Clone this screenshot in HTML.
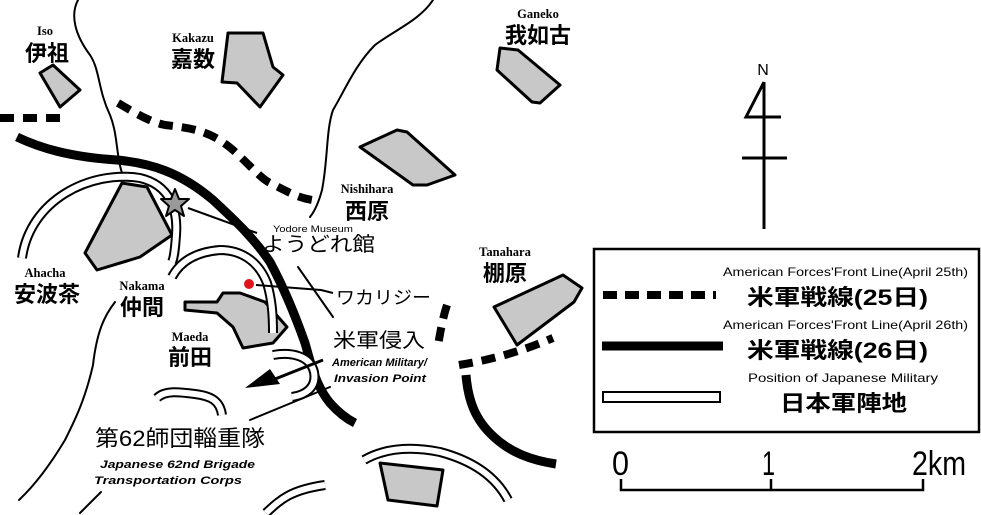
<!DOCTYPE html>
<html><head><meta charset="utf-8"><style>
html,body{margin:0;padding:0;background:#fff;}
svg{display:block;}
.s{font-family:"Liberation Serif",serif;font-weight:bold;font-size:12.5px;}
.j{font-family:"Liberation Sans","Noto Sans CJK JP",sans-serif;font-weight:bold;font-size:22px;}
.n{font-family:"Liberation Sans","Noto Sans CJK JP",sans-serif;}
.m{font-family:"Liberation Sans",sans-serif;}
.i{font-family:"Liberation Sans",sans-serif;font-style:italic;font-weight:bold;font-size:11px;}
</style></head><body>
<svg width="981" height="515" viewBox="0 0 981 515" xmlns="http://www.w3.org/2000/svg">
<g fill="none" stroke="#000" stroke-width="2" stroke-linejoin="round" stroke-linecap="round">
<path d="M78,0 C70,15 75,35 90,55 C100,70 98,90 110,115 C118,135 116,155 122,173"/>
<path d="M433,0 C420,20 395,30 375,45 C355,65 345,90 333,110 C326,130 328,160 322,190 C318,205 314,212 310,217"/>
<path d="M115,302 C105,315 97,330 93,365 C85,400 75,420 65,440 C50,465 35,485 19,500"/>
<path d="M101,492 L80,513"/>
<path d="M298,267 L333,317"/>
<path d="M330,387 L250,420"/>
</g>
<g fill="none" stroke="#000" stroke-width="8" stroke-dasharray="14,9">
<path d="M0,118 L63,118"/>
<path d="M118,103 C135,113 150,122 165,125 C190,128 210,130 233,150 C250,165 260,178 270,183 C285,190 295,197 312,200"/>
<path d="M447,305 C442,320 440,335 438,345"/>
<path d="M459,365 C490,360 520,352 553,338"/>
</g>
<g fill="none" stroke="#000" stroke-width="9">
<path d="M17,137 C40,148 70,157 117,160 C150,163 180,172 213,200 C240,225 255,240 270,262 C285,290 295,315 305,343 C310,360 315,385 330,403 C338,412 345,418 355,423"/>
<path d="M466,375 C468,400 475,420 494,437 C510,452 530,460 556,464"/>
</g>
<g fill="#c8c8c8" stroke="#000" stroke-width="3" stroke-linejoin="round">
<polygon points="40,73 53,65 80,90 60,107"/>
<polygon points="228,33 263,33 273,67 283,75 260,107 237,83 222,82"/>
<polygon points="360,147 397,130 407,132 455,175 427,185 413,185"/>
<polygon points="500,48 518,50 560,85 540,103 532,102 497,70"/>
<polygon points="122,183 147,187 172,235 140,257 97,270 85,253"/>
<polygon points="185,302 185,310 217,313 233,327 243,348 273,343 287,327 265,302 240,293 223,293 217,302"/>
<polygon points="494,307 563,275 582,288 574,302 517,345"/>
<polygon points="380,463 443,470 437,506 388,500"/>
</g>
<g fill="none" stroke-linecap="butt">
<g stroke="#000" stroke-width="10">
<path d="M22,258 C30,200 90,170 140,178 C170,185 178,210 176,235 C175,250 174,258 172,262"/>
<path d="M172,277 C180,262 195,252 220,250 C240,250 258,260 267,283 C272,300 273,315 273,333"/>
<path d="M273,355 C290,352 310,355 314,372 C317,388 305,395 292,397"/>
<path d="M157,398 C165,390 180,392 195,394 C210,396 220,400 222,415"/>
<path d="M364,460 C385,448 410,446 440,452 C470,460 495,475 508,500"/>
<path d="M266,513 C280,500 290,490 325,485"/>
</g>
<g stroke="#fff" stroke-width="6">
<path d="M22,258 C30,200 90,170 140,178 C170,185 178,210 176,235 C175,250 174,258 172,262"/>
<path d="M172,277 C180,262 195,252 220,250 C240,250 258,260 267,283 C272,300 273,315 273,333"/>
<path d="M273,355 C290,352 310,355 314,372 C317,388 305,395 292,397"/>
<path d="M157,398 C165,390 180,392 195,394 C210,396 220,400 222,415"/>
<path d="M364,460 C385,448 410,446 440,452 C470,460 495,475 508,500"/>
<path d="M266,513 C280,500 290,490 325,485"/>
</g>
</g>
<line x1="323" y1="360" x2="270" y2="381" stroke="#000" stroke-width="3"/>
<polygon points="245,388 270,369 280,384" fill="#000"/>
<polygon points="175,189 179,199 189,199 181,206 184,216 175,210 166,216 169,206 161,199 171,199" fill="#999" stroke="#000" stroke-width="2" stroke-linejoin="round"/>
<line x1="188" y1="208" x2="257" y2="233" stroke="#000" stroke-width="2"/>
<circle cx="249" cy="284" r="5" fill="#e0161c"/>
<polyline points="256,285 321,290 333,293" fill="none" stroke="#000" stroke-width="2"/>
<g text-anchor="middle">
<text class="s" x="45" y="35">Iso</text><text class="j" x="47" y="61">伊祖</text>
<text class="s" x="193" y="42">Kakazu</text><text class="j" x="193" y="67">嘉数</text>
<text class="s" x="538" y="18">Ganeko</text><text class="j" x="538" y="43">我如古</text>
<text class="s" x="367" y="193">Nishihara</text><text class="j" x="367" y="219">西原</text>
<text class="s" x="505" y="256">Tanahara</text><text class="j" x="505" y="281">棚原</text>
<text class="s" x="45" y="277">Ahacha</text><text class="j" x="47" y="302">安波茶</text>
<text class="s" x="142" y="290">Nakama</text><text class="j" x="142" y="315">仲間</text>
<text class="s" x="190" y="341">Maeda</text><text class="j" x="190" y="365">前田</text>
</g>
<text class="m" x="273" y="232" font-size="9.5" textLength="80" lengthAdjust="spacingAndGlyphs">Yodore Museum</text>
<text class="n" x="262" y="251" font-size="20" textLength="113" lengthAdjust="spacingAndGlyphs">ようどれ館</text>
<text class="n" x="336" y="304" font-size="18" textLength="95" lengthAdjust="spacingAndGlyphs">ワカリジー</text>
<text class="n" x="333" y="347" font-size="20" textLength="92" lengthAdjust="spacingAndGlyphs">米軍侵入</text>
<text class="i" x="332" y="366" textLength="95" lengthAdjust="spacingAndGlyphs">American Military/</text>
<text class="i" x="334" y="382" textLength="92" lengthAdjust="spacingAndGlyphs">Invasion Point</text>
<text class="n" x="95" y="446" font-size="22" textLength="170" lengthAdjust="spacingAndGlyphs">第62師団輜重隊</text>
<text class="i" x="100" y="468" textLength="155" lengthAdjust="spacingAndGlyphs">Japanese 62nd Brigade</text>
<text class="i" x="94" y="484" textLength="148" lengthAdjust="spacingAndGlyphs">Transportation Corps</text>
<g stroke="#000" stroke-width="3" fill="none">
<line x1="764" y1="82" x2="764" y2="229"/>
<polyline points="764,82 746,117 781,117"/>
<line x1="742" y1="158" x2="787" y2="158"/>
</g>
<text class="m" x="763" y="75" font-size="16" text-anchor="middle">N</text>
<rect x="594" y="249" width="385" height="183" fill="none" stroke="#000" stroke-width="2.5"/>
<line x1="603" y1="295" x2="716" y2="295" stroke="#000" stroke-width="8" stroke-dasharray="14,8"/>
<line x1="602" y1="346" x2="723" y2="346" stroke="#000" stroke-width="9"/>
<rect x="603" y="392" width="117" height="10" fill="#fff" stroke="#000" stroke-width="2"/>
<text class="m" x="723" y="276" font-size="12" textLength="245" lengthAdjust="spacingAndGlyphs">American Forces'Front Line(April 25th)</text>
<text class="j" x="747" y="305" font-size="25" textLength="181" lengthAdjust="spacingAndGlyphs">米軍戦線(25日)</text>
<text class="m" x="723" y="329" font-size="12" textLength="245" lengthAdjust="spacingAndGlyphs">American Forces'Front Line(April 26th)</text>
<text class="j" x="747" y="358" font-size="25" textLength="181" lengthAdjust="spacingAndGlyphs">米軍戦線(26日)</text>
<text class="m" x="748" y="382" font-size="12" textLength="190" lengthAdjust="spacingAndGlyphs">Position of Japanese Military</text>
<text class="j" x="780" y="411" font-size="24" textLength="127" lengthAdjust="spacingAndGlyphs">日本軍陣地</text>
<text class="m" x="612" y="475" font-size="34" textLength="17" lengthAdjust="spacingAndGlyphs">0</text>
<text class="m" x="762" y="475" font-size="34" textLength="13" lengthAdjust="spacingAndGlyphs">1</text>
<text class="m" x="912" y="475" font-size="34" textLength="54" lengthAdjust="spacingAndGlyphs">2km</text>
<g stroke="#000" stroke-width="2.5" fill="none">
<polyline points="621,479 621,490 923,490 923,479"/>
<line x1="771" y1="479" x2="771" y2="490"/>
</g>
</svg>
</body></html>
